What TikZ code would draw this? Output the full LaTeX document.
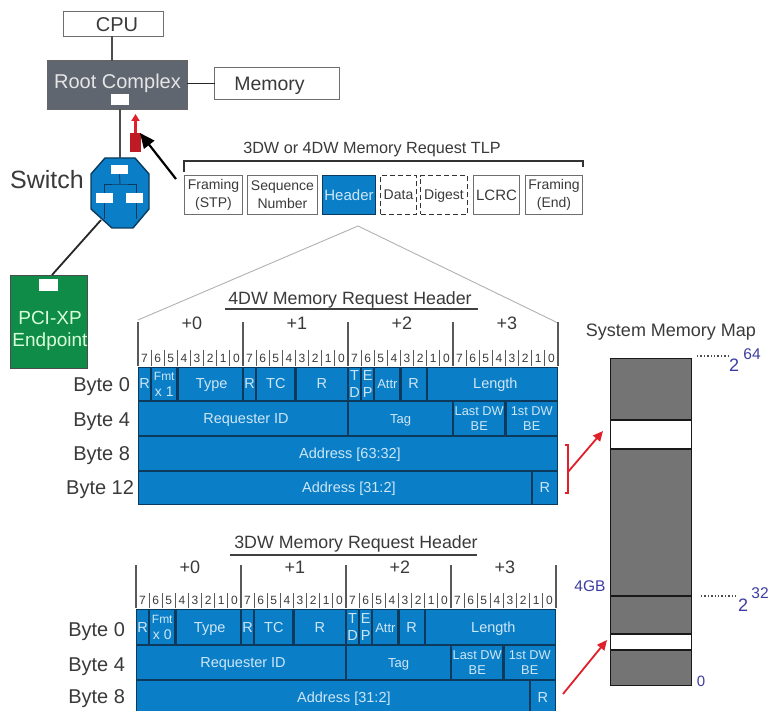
\documentclass[tikz,border=0pt]{standalone}
\usepackage{fontspec}
\setmainfont{Liberation Sans}
\usetikzlibrary{arrows.meta}
\definecolor{hblue}{HTML}{0A7FC8}
\definecolor{hline}{HTML}{0B3A5C}
\definecolor{hgray}{HTML}{5F6670}
\definecolor{mgray}{HTML}{747474}
\definecolor{hgreen}{HTML}{0E8C48}
\definecolor{ltxt}{HTML}{CFE6F5}
\definecolor{dtxt}{HTML}{3A3A3A}
\definecolor{bbox}{HTML}{6E6E6E}
\definecolor{pur}{HTML}{3C3CA0}
\definecolor{rred}{HTML}{E0202A}
\newcommand\fs[1]{\fontsize{#1}{#1}\selectfont}
\tikzset{
  cellbase/.style={draw=hline,line width=1.2pt,fill=hblue,text=ltxt,inner sep=0pt,outer sep=0pt,align=center,font=\fs{14.5}},
  cellbox/.style={cellbase,text height=10pt,text depth=0pt},
  mcell/.style={cellbase},
  plainbox/.style={draw=bbox,line width=1.4pt,fill=white,text=dtxt,inner sep=0pt,outer sep=0pt,align=center,font=\fs{14}},
  dashbox/.style={plainbox,draw=black!80,line width=1.5pt,dash pattern=on 5pt off 3pt},
  txt/.style={text=dtxt,inner sep=0pt,outer sep=0pt,align=center},
  whitebox/.style={draw=none,fill=white,inner sep=0pt,outer sep=0pt},
  bytelab/.style={txt,anchor=east,font=\fs{20}},
  title/.style={txt,font=\fs{17.8}},
  plus/.style={txt,font=\fs{18}},
  bitlab/.style={txt,font=\fs{12}},
  wire/.style={line width=1.6pt,draw=black!70},
  blackwire/.style={line width=1.8pt,draw=black!85},
  redarrow/.style={draw=rred,line width=1.8pt,-{Triangle[length=10pt,width=9pt]}},
  purtxt/.style={text=pur,inner sep=0pt,outer sep=0pt},
  x=1pt,y=-1pt
}
% #1 name, #2 style, #3 x0, #4 x1, #5 y0, #6 y1, #7 text
\newcommand\rbox[7]{%
  \pgfmathsetmacro\rw{#4-#3}\pgfmathsetmacro\rh{#6-#5}%
  \pgfmathsetmacro\rx{(#3+#4)/2}\pgfmathsetmacro\ry{(#5+#6)/2}%
  \node[#2,minimum width=\rw pt-1.1pt,minimum height=\rh pt-1.1pt] (#1) at (\rx,\ry) {#7};}
% cell by bit range: #1 name, #2 style, #3 bit0, #4 bit1, #5 y0, #6 y1, #7 text
\newcommand\bcell[7]{%
  \pgfmathsetmacro\ca{\tx+#3*\tb}\pgfmathsetmacro\cb{\tx+#4*\tb}%
  \rbox{#1}{#2}{\ca}{\cb}{#5}{#6}{#7}}
% ruler: #1 prefix, #2 x0, #3 tick top, #4 tick bottom, #5 long tick top, #6 plus y
\newcommand\ruler[6]{%
  \foreach \i in {0,...,31}{%
    \pgfmathtruncatemacro\lab{7-mod(\i,8)}%
    \pgfmathsetmacro\lx{#2+(\i+0.5)*\tb}%
    \node[bitlab] (#1bit\i) at (\lx,#4-7.5) {\lab};
  }%
  \foreach \i in {1,...,31}{%
    \pgfmathsetmacro\lx{#2+\i*\tb}%
    \draw[line width=.9pt,draw=black!65] (\lx,#3) -- (\lx,#4);
  }%
  \foreach \i in {0,1,2,3,4}{%
    \pgfmathsetmacro\lx{#2+8*\i*\tb}%
    \draw[line width=1.1pt,draw=black!65] (\lx,#5) -- (\lx,#4);
  }%
  \foreach \i in {0,1,2,3}{%
    \pgfmathsetmacro\lx{#2+(8*\i+4.1)*\tb}%
    \node[plus] (#1plus\i) at (\lx,#6) {+\i};
  }%
}
\begin{document}
\begin{tikzpicture}
\clip (0,0) rectangle (769,711);
\fill[white] (0,0) rectangle (769,711);
\def\tb{13.125}
% ---- topology
\rbox{cpu}{plainbox,font=\fs{20},text height=15pt,text depth=0pt}{63}{164}{11}{37}{\hspace*{7pt}CPU}
\rbox{rc}{draw=black!60,line width=1pt,fill=hgray,text=white!90!black,inner sep=0pt,outer sep=0pt,font=\fs{20},text depth=8pt}{47}{188}{60}{110}{Root Complex}
\rbox{rcport}{whitebox}{110}{130}{93}{106}{}
\rbox{mem}{plainbox,font=\fs{19.5},text height=14pt,text depth=0pt}{214}{340}{67}{100}{\hspace*{-15pt}Memory}
\draw[wire] (cpu.south -| 112,0) -- (rc.north -| 112,0);
\draw[blackwire] (rc.east |- mem.west) -- (mem.west);
% switch
\fill[hblue,draw=hline,line width=1.4pt] (105,158) -- (135,158) -- (149,174) -- (149,209) -- (133,228) -- (112,228) -- (91,209) -- (91,174) -- cycle;
\node[inner sep=0pt,outer sep=0pt,minimum width=58pt,minimum height=70pt] (switch) at (120,193) {};
\node[txt,font=\fs{25}] (swlab) at (47,180) {Switch};
\coordinate (swrc) at (120,158);
\draw[wire] (rc.south -| swrc) -- (swrc);
\rbox{swtop}{whitebox}{110}{129}{164}{175}{}
\rbox{swl}{whitebox}{95}{114}{192}{204}{}
\rbox{swr}{whitebox}{125}{144}{192}{204}{}
\coordinate (swhub) at (120,184);
\draw[line width=.9pt,draw=hline] (swtop.south) -- (swhub);
\draw[line width=.9pt,draw=hline] (swl.north -| 104,0) |- (swhub) -| (swr.north -| 136,0);
\coordinate (swlb) at (104,219);
\coordinate (swrb) at (136,219);
\draw[line width=.9pt,draw=hline] (swl.south -| swlb) -- (swlb);
\draw[line width=.9pt,draw=hline] (swr.south -| swrb) -- (swrb);
% endpoint
\rbox{ep}{draw=black!70,line width=1.2pt,fill=hgreen,inner sep=0pt,outer sep=0pt}{10}{88}{275}{369}{}
\node[text=white!85!green,inner sep=0pt,outer sep=0pt,align=center,font=\fs{19}] (eplab) at (50,331) {PCI-XP\\[3pt]Endpoint};
\rbox{epport}{whitebox}{38}{59}{278}{292}{}
\coordinate (swep) at (101,220);
\coordinate (eptop) at (52,275);
\draw[blackwire] (swep) -- (eptop);
% packet marker
\rbox{pkt}{draw=none,fill=rred!85!black,inner sep=0pt,outer sep=0pt}{129}{142}{132}{153}{}
\coordinate (pkttip) at (135.5,114);
\draw[draw=rred,line width=2.2pt,-{Triangle[length=7pt,width=8pt]}] (pkt.north) -- (pkttip);
\coordinate (ptrstart) at (176,179);
\coordinate (ptrend) at (140,133);
\draw[draw=black,line width=2.2pt,-{Triangle[length=15pt,width=13pt]}] (ptrstart) -- (ptrend);
% ---- TLP
\node[txt,font=\fs{16.2}] (tlptitle) at (372,150) {3DW or 4DW Memory Request TLP};
\coordinate (brl) at (184,172);
\coordinate (brtl) at (184,161);
\coordinate (brtr) at (583,161);
\coordinate (brr) at (583,167);
\draw[line width=1.3pt,draw=black!80] (brl) -- (brtl) -- (brtr) -- (brr);
\rbox{fstp}{plainbox}{184}{243}{175}{215}{Framing\\[4pt](STP)}
\rbox{seq}{plainbox}{247}{318}{175}{215}{Sequence\\[4pt]Number}
\rbox{hdr}{plainbox,fill=hblue,text=ltxt,draw=hline,font=\fs{15},text height=11pt,text depth=0pt}{322}{376}{175}{215}{Header}
\rbox{data}{dashbox,text height=10pt,text depth=0pt}{380}{417}{175}{215}{Data}
\rbox{dig}{dashbox,text height=10pt,text depth=0pt}{420}{468}{175}{215}{Digest}
\rbox{lcrc}{plainbox,font=\fs{15}}{473}{520}{175}{215}{LCRC}
\rbox{fend}{plainbox}{525}{583}{175}{215}{Framing\\[4pt](End)}
% zoom wedge
\coordinate (wl) at (138,320);
\coordinate (wp) at (358,226);
\coordinate (wr) at (558,323);
\draw[line width=.9pt,draw=black!30] (wl) -- (wp) -- (wr);
% ---- 4DW header
\node[title] (t4) at (350,300) {4DW Memory Request Header};
\coordinate (t4a) at (225,309);
\coordinate (t4b) at (478,309);
\draw[line width=1.2pt,draw=black!75] (t4a) -- (t4b);
\ruler{a}{138}{350}{366}{322}{323}
\def\tx{138}
\bcell{aR1}{cellbox}{0}{1}{367}{401}{R}
\bcell{aFmt}{mcell,font=\fs{12}}{1}{3}{367}{401}{Fmt\\[4pt]{\fs{14}x 1}}
\bcell{aType}{cellbox}{3}{8}{367}{401}{\hspace*{3pt}Type}
\bcell{aR2}{cellbox}{8}{9}{367}{401}{R}
\bcell{aTC}{cellbox}{9}{12}{367}{401}{TC}
\bcell{aR3}{cellbox}{12}{16}{367}{401}{R}
\bcell{aTD}{mcell}{16}{17}{367}{401}{T\\[3pt]D}
\bcell{aEP}{mcell}{17}{18}{367}{401}{E\\[3pt]P}
\bcell{aAttr}{cellbox,font=\fs{13}}{18}{20}{367}{401}{Attr}
\bcell{aR4}{cellbox}{20}{22}{367}{401}{R}
\bcell{aLen}{cellbox}{22}{32}{367}{401}{\hspace*{6pt}Length}
\bcell{aReq}{cellbox}{0}{16}{401}{436}{\hspace*{6pt}Requester ID}
\bcell{aTag}{cellbox,font=\fs{13}}{16}{24}{401}{436}{Tag}
\bcell{aLast}{mcell,font=\fs{12.8}}{24}{28}{401}{436}{Last DW\\[3pt]BE}
\bcell{aFirst}{mcell,font=\fs{12.8}}{28}{32}{401}{436}{1st DW\\[3pt]BE}
\bcell{aAddrH}{cellbox}{0}{32}{436}{471}{\hspace*{4pt}Address [63:32]}
\bcell{aAddrL}{cellbox}{0}{30}{471}{505}{\hspace*{28pt}Address [31:2]}
\bcell{aR5}{cellbox}{30}{32}{471}{505}{R}
\node[bytelab] (a0) at (130,387) {Byte 0};
\node[bytelab] (a4) at (130,422) {Byte 4};
\node[bytelab] (a8) at (130,456) {Byte 8};
\node[bytelab] (a12) at (134,490) {Byte 12};
% ---- 3DW header
\node[title] (t3) at (356,544) {3DW Memory Request Header};
\coordinate (t3a) at (230,555);
\coordinate (t3b) at (477,555);
\draw[line width=1.2pt,draw=black!75] (t3a) -- (t3b);
\ruler{b}{136}{593}{608}{565}{567}
\def\tx{136}
\bcell{bR1}{cellbox}{0}{1}{609}{645}{R}
\bcell{bFmt}{mcell,font=\fs{12}}{1}{3}{609}{645}{Fmt\\[4pt]{\fs{14}x 0}}
\bcell{bType}{cellbox}{3}{8}{609}{645}{\hspace*{3pt}Type}
\bcell{bR2}{cellbox}{8}{9}{609}{645}{R}
\bcell{bTC}{cellbox}{9}{12}{609}{645}{TC}
\bcell{bR3}{cellbox}{12}{16}{609}{645}{R}
\bcell{bTD}{mcell}{16}{17}{609}{645}{T\\[3pt]D}
\bcell{bEP}{mcell}{17}{18}{609}{645}{E\\[3pt]P}
\bcell{bAttr}{cellbox,font=\fs{13}}{18}{20}{609}{645}{Attr}
\bcell{bR4}{cellbox}{20}{22}{609}{645}{R}
\bcell{bLen}{cellbox}{22}{32}{609}{645}{\hspace*{6pt}Length}
\bcell{bReq}{cellbox}{0}{16}{645}{680}{\hspace*{4pt}Requester ID}
\bcell{bTag}{cellbox,font=\fs{13}}{16}{24}{645}{680}{Tag}
\bcell{bLast}{mcell,font=\fs{12.8}}{24}{28}{645}{680}{Last DW\\[3pt]BE}
\bcell{bFirst}{mcell,font=\fs{12.8}}{28}{32}{645}{680}{1st DW\\[3pt]BE}
\bcell{bAddr}{cellbox}{0}{30}{680}{714}{\hspace*{22pt}Address [31:2]}
\bcell{bR5}{cellbox}{30}{32}{680}{714}{R}
\node[bytelab] (b0) at (125,632) {Byte 0};
\node[bytelab] (b4) at (125,667) {Byte 4};
\node[bytelab] (b8) at (125,699) {Byte 8};
% ---- memory map
\node[title,font=\fs{18}] (mtitle) at (671,332) {System Memory Map};
\tikzset{mapseg/.style={draw=black!90,line width=1.5pt,fill=mgray,inner sep=0pt,outer sep=0pt}}
\rbox{m1}{mapseg}{610}{692}{358}{420}{}
\rbox{m2}{mapseg,fill=white}{610}{692}{420}{449}{}
\rbox{m3}{mapseg}{610}{692}{449}{596}{}
\rbox{m4}{mapseg}{610}{692}{596}{634}{}
\rbox{m5}{mapseg,fill=white}{610}{692}{634}{650}{}
\rbox{m6}{mapseg}{610}{692}{650}{686}{}
\coordinate (d64a) at (697,356);
\coordinate (d64b) at (728,356);
\coordinate (d32a) at (701,596);
\coordinate (d32b) at (737,596);
\draw[line width=1.4pt,dotted,draw=black!70] (d64a) -- (d64b);
\draw[line width=1.4pt,dotted,draw=black!70] (d32a) -- (d32b);
\node[purtxt,font=\fs{18}] (p64) at (734,365) {2};
\node[purtxt,font=\fs{15.5}] (e64) at (752,354) {64};
\node[purtxt,font=\fs{18}] (p32) at (743,605) {2};
\node[purtxt,font=\fs{15.5}] (e32) at (760,593) {32};
\node[purtxt,font=\fs{15.5}] (gb) at (590,586) {4GB};
\node[purtxt,font=\fs{15}] (zero) at (701,681) {0};
% red bracket and arrows
\coordinate (bk1) at (565,445);
\coordinate (bk2) at (568,445);
\coordinate (bk3) at (568,493);
\coordinate (bk4) at (565,493);
\draw[draw=rred,line width=1.5pt] (bk1) -- (bk2) -- (bk3) -- (bk4);
\coordinate (ar1s) at (568,472);
\coordinate (ar1e) at (603,431);
\draw[redarrow] (ar1s) -- (ar1e);
\coordinate (ar2s) at (563,694);
\coordinate (ar2e) at (607,640);
\draw[redarrow] (ar2s) -- (ar2e);
\end{tikzpicture}
\end{document}
